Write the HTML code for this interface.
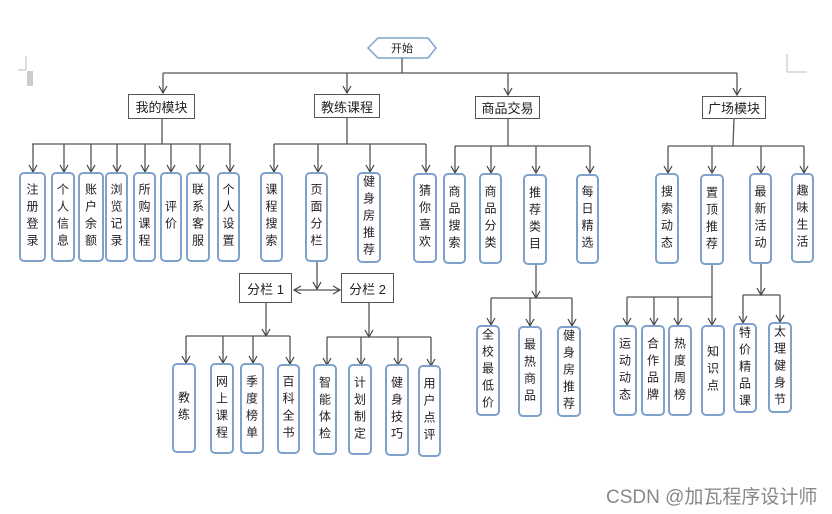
<!DOCTYPE html>
<html><head><meta charset="utf-8"><style>
body{margin:0;width:832px;height:514px;background:#fff;position:relative;overflow:hidden;font-family:"Liberation Sans","Noto Sans CJK SC",sans-serif;}
.b{position:absolute;box-sizing:border-box;border:2px solid #7fa2cc;border-radius:5px;display:flex;align-items:center;justify-content:center;}
.b span{writing-mode:vertical-rl;font-size:12px;letter-spacing:5px;color:#222;}
.m{position:absolute;box-sizing:border-box;border:1.5px solid #555;display:flex;align-items:center;justify-content:center;font-size:13px;color:#222;background:#fff;}
svg{position:absolute;left:0;top:0;}
.wm{position:absolute;left:606px;top:482px;font-size:19px;color:#888;white-space:nowrap;}
</style></head><body>
<svg width="832" height="514" viewBox="0 0 832 514">
<defs><marker id="a" markerWidth="10" markerHeight="10" refX="9" refY="5" orient="auto" markerUnits="userSpaceOnUse" viewBox="0 0 10 10"><path d="M2,1 L9,5 L2,9" fill="none" stroke="#444" stroke-width="1.2"/></marker>
<marker id="r" markerWidth="10" markerHeight="10" refX="9" refY="5" orient="auto" markerUnits="userSpaceOnUse" viewBox="0 0 10 10"><path d="M2,1 L9,5 L2,9" fill="none" stroke="#444" stroke-width="1.2"/></marker></defs>
<g stroke="#555" stroke-width="1.3" fill="none">
<polygon points="368,48 378,38 428,38 436,48 428,58 378,58" stroke="#7fa2cc" stroke-width="1.5"/>
<line x1="18" y1="70" x2="26" y2="70" stroke="#ccc"/><line x1="26" y1="56" x2="26" y2="70" stroke="#ccc"/>
<rect x="27" y="71" width="6" height="15" fill="#ccc" stroke="none"/>
<line x1="787" y1="72" x2="807" y2="72" stroke="#ccc"/><line x1="787" y1="54" x2="787" y2="72" stroke="#ccc"/>
<line x1="402" y1="58" x2="402" y2="73"/>
<line x1="163" y1="73" x2="737" y2="73"/>
<line x1="163" y1="73" x2="163" y2="93" marker-end="url(#a)"/>
<line x1="347" y1="73" x2="347" y2="93" marker-end="url(#a)"/>
<line x1="508" y1="73" x2="508" y2="95" marker-end="url(#a)"/>
<line x1="737" y1="73" x2="737" y2="95" marker-end="url(#a)"/>
<line x1="162" y1="119" x2="162" y2="144"/><line x1="32" y1="144" x2="231" y2="144"/>
<line x1="33" y1="144" x2="33" y2="172" marker-end="url(#a)"/><line x1="64" y1="144" x2="64" y2="172" marker-end="url(#a)"/>
<line x1="91" y1="144" x2="91" y2="172" marker-end="url(#a)"/><line x1="117" y1="144" x2="117" y2="172" marker-end="url(#a)"/>
<line x1="145" y1="144" x2="145" y2="172" marker-end="url(#a)"/><line x1="171" y1="144" x2="171" y2="172" marker-end="url(#a)"/>
<line x1="200" y1="144" x2="200" y2="172" marker-end="url(#a)"/><line x1="230" y1="144" x2="230" y2="172" marker-end="url(#a)"/>
<line x1="347" y1="118" x2="347" y2="144"/><line x1="274" y1="144" x2="426" y2="144"/>
<line x1="274" y1="144" x2="274" y2="172" marker-end="url(#a)"/><line x1="318" y1="144" x2="318" y2="172" marker-end="url(#a)"/>
<line x1="370" y1="144" x2="370" y2="172" marker-end="url(#a)"/><line x1="426" y1="144" x2="426" y2="172" marker-end="url(#a)"/>
<line x1="508" y1="119" x2="508" y2="146"/><line x1="455" y1="146" x2="590" y2="146"/>
<line x1="455" y1="146" x2="455" y2="173" marker-end="url(#a)"/><line x1="491" y1="146" x2="491" y2="173" marker-end="url(#a)"/>
<line x1="536" y1="146" x2="536" y2="173" marker-end="url(#a)"/><line x1="590" y1="146" x2="590" y2="173" marker-end="url(#a)"/>
<line x1="734" y1="119" x2="733" y2="146"/><line x1="668" y1="146" x2="804" y2="146"/>
<line x1="668" y1="146" x2="668" y2="173" marker-end="url(#a)"/><line x1="712" y1="146" x2="712" y2="173" marker-end="url(#a)"/>
<line x1="761" y1="146" x2="761" y2="173" marker-end="url(#a)"/><line x1="804" y1="146" x2="804" y2="173" marker-end="url(#a)"/>
<line x1="317" y1="262" x2="317" y2="289" marker-end="url(#a)"/>
<line x1="317" y1="290" x2="294" y2="290" marker-end="url(#r)"/>
<line x1="317" y1="290" x2="340" y2="290" marker-end="url(#r)"/>
<line x1="266" y1="303" x2="266" y2="336" marker-end="url(#a)"/><line x1="186" y1="336" x2="290" y2="336"/>
<line x1="186" y1="336" x2="186" y2="363" marker-end="url(#a)"/><line x1="223" y1="336" x2="223" y2="363" marker-end="url(#a)"/>
<line x1="253" y1="336" x2="253" y2="363" marker-end="url(#a)"/><line x1="290" y1="336" x2="290" y2="364" marker-end="url(#a)"/>
<line x1="369" y1="303" x2="369" y2="337" marker-end="url(#a)"/><line x1="327" y1="337" x2="431" y2="337"/>
<line x1="327" y1="337" x2="327" y2="365" marker-end="url(#a)"/><line x1="361" y1="337" x2="361" y2="365" marker-end="url(#a)"/>
<line x1="398" y1="337" x2="398" y2="365" marker-end="url(#a)"/><line x1="431" y1="337" x2="431" y2="366" marker-end="url(#a)"/>
<line x1="536" y1="265" x2="536" y2="298" marker-end="url(#a)"/><line x1="491" y1="298" x2="572" y2="298"/>
<line x1="491" y1="298" x2="491" y2="325" marker-end="url(#a)"/><line x1="530" y1="298" x2="530" y2="326" marker-end="url(#a)"/>
<line x1="572" y1="298" x2="572" y2="326" marker-end="url(#a)"/>
<line x1="712" y1="264" x2="712" y2="297"/><line x1="627" y1="297" x2="712" y2="297"/>
<line x1="627" y1="297" x2="627" y2="325" marker-end="url(#a)"/><line x1="654" y1="297" x2="654" y2="325" marker-end="url(#a)"/>
<line x1="678" y1="297" x2="678" y2="325" marker-end="url(#a)"/><line x1="712" y1="297" x2="712" y2="325" marker-end="url(#a)"/>
<line x1="761" y1="264" x2="761" y2="295" marker-end="url(#a)"/><line x1="743" y1="295" x2="780" y2="295"/>
<line x1="743" y1="295" x2="743" y2="323" marker-end="url(#a)"/><line x1="780" y1="295" x2="780" y2="322" marker-end="url(#a)"/>
</g>
<text x="402" y="52" font-size="11" text-anchor="middle" fill="#222" font-family="Liberation Sans,Noto Sans CJK SC,sans-serif">开始</text>
</svg>
<div class="m" style="left:128px;top:94px;width:67px;height:25px">我的模块</div>
<div class="m" style="left:314px;top:94px;width:66px;height:24px">教练课程</div>
<div class="m" style="left:475px;top:96px;width:65px;height:23px">商品交易</div>
<div class="m" style="left:702px;top:96px;width:64px;height:23px">广场模块</div>
<div class="m" style="left:239px;top:273px;width:53px;height:30px">分栏 1</div>
<div class="m" style="left:341px;top:273px;width:53px;height:30px">分栏 2</div>

<div class="b" style="left:19px;top:172px;width:27px;height:90px"><span>注册登录</span></div>
<div class="b" style="left:51px;top:172px;width:24px;height:90px"><span>个人信息</span></div>
<div class="b" style="left:78px;top:172px;width:26px;height:90px"><span>账户余额</span></div>
<div class="b" style="left:105px;top:172px;width:23px;height:90px"><span>浏览记录</span></div>
<div class="b" style="left:133px;top:172px;width:23px;height:90px"><span>所购课程</span></div>
<div class="b" style="left:160px;top:172px;width:22px;height:90px"><span>评价</span></div>
<div class="b" style="left:186px;top:172px;width:24px;height:90px"><span>联系客服</span></div>
<div class="b" style="left:217px;top:172px;width:23px;height:90px"><span>个人设置</span></div>

<div class="b" style="left:260px;top:172px;width:23px;height:90px"><span>课程搜索</span></div>
<div class="b" style="left:305px;top:172px;width:23px;height:90px"><span>页面分栏</span></div>
<div class="b" style="left:357px;top:172px;width:24px;height:91px"><span>健身房推荐</span></div>
<div class="b" style="left:413px;top:173px;width:24px;height:90px"><span>猜你喜欢</span></div>

<div class="b" style="left:443px;top:173px;width:23px;height:91px"><span>商品搜索</span></div>
<div class="b" style="left:479px;top:173px;width:23px;height:91px"><span>商品分类</span></div>
<div class="b" style="left:523px;top:174px;width:24px;height:91px"><span>推荐类目</span></div>
<div class="b" style="left:576px;top:174px;width:23px;height:90px"><span>每日精选</span></div>

<div class="b" style="left:655px;top:173px;width:24px;height:91px"><span>搜索动态</span></div>
<div class="b" style="left:700px;top:174px;width:24px;height:91px"><span>置顶推荐</span></div>
<div class="b" style="left:749px;top:173px;width:23px;height:91px"><span>最新活动</span></div>
<div class="b" style="left:791px;top:173px;width:23px;height:90px"><span>趣味生活</span></div>

<div class="b" style="left:172px;top:363px;width:24px;height:90px"><span>教练</span></div>
<div class="b" style="left:210px;top:363px;width:24px;height:91px"><span>网上课程</span></div>
<div class="b" style="left:240px;top:363px;width:24px;height:91px"><span>季度榜单</span></div>
<div class="b" style="left:277px;top:364px;width:23px;height:90px"><span>百科全书</span></div>
<div class="b" style="left:313px;top:364px;width:24px;height:91px"><span>智能体检</span></div>
<div class="b" style="left:348px;top:364px;width:24px;height:91px"><span>计划制定</span></div>
<div class="b" style="left:385px;top:364px;width:24px;height:92px"><span>健身技巧</span></div>
<div class="b" style="left:418px;top:365px;width:23px;height:92px"><span>用户点评</span></div>

<div class="b" style="left:476px;top:325px;width:24px;height:91px"><span>全校最低价</span></div>
<div class="b" style="left:518px;top:326px;width:24px;height:91px"><span>最热商品</span></div>
<div class="b" style="left:557px;top:326px;width:24px;height:91px"><span>健身房推荐</span></div>

<div class="b" style="left:613px;top:325px;width:24px;height:91px"><span>运动动态</span></div>
<div class="b" style="left:641px;top:325px;width:24px;height:91px"><span>合作品牌</span></div>
<div class="b" style="left:668px;top:325px;width:24px;height:91px"><span>热度周榜</span></div>
<div class="b" style="left:701px;top:325px;width:24px;height:91px"><span>知识点</span></div>
<div class="b" style="left:733px;top:323px;width:24px;height:90px"><span>特价精品课</span></div>
<div class="b" style="left:768px;top:322px;width:24px;height:91px"><span>太理健身节</span></div>

<div class="wm">CSDN @加瓦程序设计师</div>
</body></html>
